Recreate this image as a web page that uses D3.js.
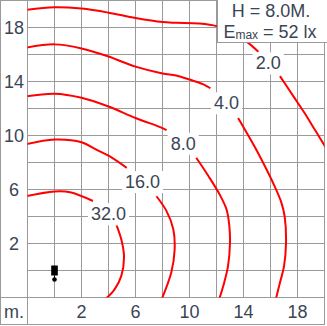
<!DOCTYPE html>
<html>
<head>
<meta charset="utf-8">
<script src="https://cdn.jsdelivr.net/npm/d3@7"></script>
<style>
  html, body { margin: 0; padding: 0; background: #fff; }
  svg { display: block; font-family: "Liberation Sans", Arial, sans-serif; }
</style>
</head>
<body>
<div id="chart"></div>
<script>
const WIDTH = 327
const HEIGHT = 326

// isolux levels (metres)
const levels = ['2.0', '4.0', '8.0', '16.0', '32.0']

// each contour is split in two where its label sits
const lux2 = [
  [[-2.1,19.3],[0,19.5],[2,19.4],[4,19.1],[6,18.7],[8,18.4],[9,18.35],[10.7,18.3],[12,18.1],[13.1,17.6],[14.3,16.9],[15.1,16.2]],
  [[16.7,14.4],[17.7,12.9],[18.5,11.7],[19.3,10.4],[20.1,9.1]]
]
const lux4 = [
  [[-2.1,16.5],[0,16.75],[2,16.45],[4,15.85],[6,15.1],[8,14.6],[9,14.45],[10,14.15],[11,13.8],[11.55,13.5]],
  [[13.6,11.3],[14.95,8.95],[15.7,7.5],[16.3,6.25],[16.8,5.05],[17.05,4.0],[17.15,2.05],[17,0.3],[16.7,-0.9],[16.4,-2.1]]
]
const lux8 = [
  [[-2.1,12.9],[0,13.1],[2,12.8],[4,12.15],[6,11.3],[8,10.55],[8.3,10.4]],
  [[10.5,8.35],[11.4,7.0],[12.25,5.6],[12.75,4.5],[12.95,3.3],[13,2.05],[12.85,0.3],[12.5,-1.15],[12.2,-2.1]]
]
const lux16 = [
  [[-2.1,9.35],[0,9.7],[2,9.5],[3.1,8.95],[4.1,8.45],[5.35,7.6]],
  [[7.55,5.5],[8.3,4.4],[8.8,3.05],[8.9,1.55],[8.65,-0.15],[7.95,-2.1]]
]
const lux32 = [
  [[-2.1,5.5],[0,5.85],[1.15,5.8],[2.85,5.15]],
  [[4.6,3.35],[4.95,2.3],[5.15,1.05],[4.95,-0.4],[4.45,-1.4],[3.8,-2.1]]
]
const contours = [lux2, lux4, lux8, lux16, lux32]
const labelAt = [[15.83,15.38],[12.74,12.42],[9.53,9.43],[6.52,6.59],[4.0,4.2]]

const xTicks = [2, 6, 10, 14, 18]
const yTicks = [2, 6, 10, 14, 18]
const gridSteps = d3.range(-2, 21, 2)
const lamp = [0, 0]

const titleLine = 'H = 8.0M.'
const emax = '52 lx'

const GRID = '#9a9a9a'
const TEXT = '#3a4555'
const RED = '#ff0000'

const svg = d3.select('#chart').append('svg').attr('width', WIDTH).attr('height', HEIGHT)

const x = d3.scaleLinear().domain([-2, 20]).range([27.5, 324.5])
const y = d3.scaleLinear().domain([-2, 20]).range([297.5, 0.5])

// grid
const grid = svg.append('g').attr('stroke', GRID).attr('stroke-width', 1)
grid.selectAll('.v')
  .data(gridSteps)
  .enter()
  .append('line')
  .attr('x1', d => x(d)).attr('x2', d => x(d))
  .attr('y1', y(20)).attr('y2', d => d === -2 ? 324.5 : y(-2))
grid.selectAll('.h')
  .data(gridSteps)
  .enter()
  .append('line')
  .attr('y1', d => y(d)).attr('y2', d => y(d))
  .attr('x1', d => d === -2 ? 0.5 : x(-2)).attr('x2', x(20))
svg.append('rect')
  .attr('x', 0.5).attr('y', 0.5).attr('width', 324).attr('height', 324)
  .attr('fill', 'none').attr('stroke', GRID)

// axis labels
svg.append('g').selectAll('text')
  .data(xTicks)
  .enter()
  .append('text')
  .attr('x', d => x(d)).attr('y', 318)
  .attr('text-anchor', 'middle')
  .attr('font-size', 18).attr('fill', TEXT)
  .text(d => d)
svg.append('g').selectAll('text')
  .data(yTicks)
  .enter()
  .append('text')
  .attr('x', 14).attr('y', d => y(d) + 6.5)
  .attr('text-anchor', 'middle')
  .attr('font-size', 18).attr('fill', TEXT)
  .text(d => d)
svg.append('text')
  .attr('x', 14).attr('y', 318)
  .attr('text-anchor', 'middle')
  .attr('font-size', 18).attr('fill', TEXT)
  .text('m.')

// contours
svg.append('clipPath').attr('id', 'plot')
  .append('rect')
  .attr('x', x(-2)).attr('y', y(20))
  .attr('width', x(20) - x(-2)).attr('height', y(-2) - y(20))

let line = d3.line()
  .x(d => x(d[0]))
  .y(d => y(d[1]))
  .curve(d3.curveCatmullRom)

const cg = svg.append('g').attr('clip-path', 'url(#plot)')
contours.forEach(segs => {
  cg.selectAll(null)
    .data(segs)
    .enter()
    .append('path')
    .attr('d', line)
    .attr('fill', 'none')
    .attr('stroke', RED)
    .attr('stroke-width', 2)
})

// contour labels on white
const lg = svg.append('g')
levels.forEach((lv, i) => {
  const p = labelAt[i]
  const g = lg.append('g')
  const bg = g.append('rect').attr('fill', '#fff')
  const t = g.append('text')
    .attr('x', x(p[0])).attr('y', y(p[1]) + 6.5)
    .attr('text-anchor', 'middle')
    .attr('font-size', 18).attr('fill', TEXT)
    .text(lv)
  const b = t.node().getBBox()
  bg.attr('x', b.x - 3).attr('y', b.y - 1)
    .attr('width', b.width + 6).attr('height', b.height + 2)
})

// luminaire
svg.append('rect')
  .attr('x', x(lamp[0]) - 3.3).attr('y', y(lamp[1]) - 5)
  .attr('width', 6.6).attr('height', 10)
  .attr('fill', '#000')
svg.append('line')
  .attr('x1', x(lamp[0])).attr('x2', x(lamp[0]))
  .attr('y1', y(lamp[1]) + 5).attr('y2', y(lamp[1]) + 9)
  .attr('stroke', '#000').attr('stroke-width', 1)
svg.append('circle')
  .attr('cx', x(lamp[0])).attr('cy', y(lamp[1]) + 9)
  .attr('r', 2.3).attr('fill', '#000')

// title box
svg.append('rect')
  .attr('x', 217.5).attr('y', -1).attr('width', 112).attr('height', 43.5)
  .attr('fill', '#fff').attr('stroke', GRID)
svg.append('text')
  .attr('x', 271).attr('y', 17)
  .attr('text-anchor', 'middle')
  .attr('font-size', 18).attr('fill', TEXT)
  .text(titleLine)
const em = svg.append('text')
  .attr('x', 270).attr('y', 37.5)
  .attr('text-anchor', 'middle')
  .attr('font-size', 18).attr('fill', TEXT)
em.append('tspan').text('E')
em.append('tspan').attr('font-size', 12).attr('dy', 1.5).text('max')
em.append('tspan').attr('dy', -1.5).text(' = ' + emax)
</script>
</body>
</html>
